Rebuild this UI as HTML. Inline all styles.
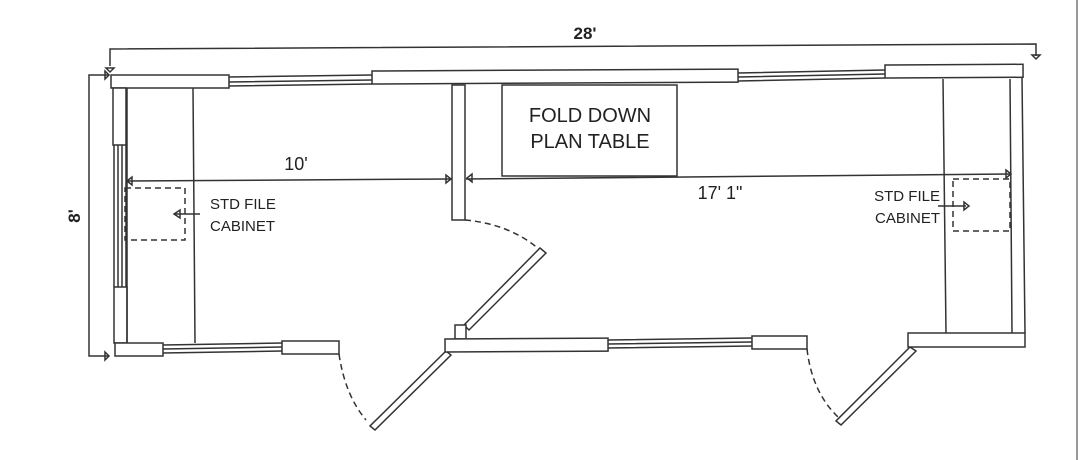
<!DOCTYPE html>
<html><head><meta charset="utf-8"><style>
html,body{margin:0;padding:0;background:#fff;width:1080px;height:460px;overflow:hidden}
svg{display:block}
text{font-family:"Liberation Sans","DejaVu Sans",sans-serif;fill:#222}
</style></head><body>
<svg width="1080" height="460" viewBox="0 0 1080 460" xmlns="http://www.w3.org/2000/svg">
<g fill="none" stroke="#333" stroke-width="1.5">
<polyline points="110,66 110,49 1036,44 1036,56"/>
<path d="M106,68 h8 l-4,4 z" />
<path d="M1032,55 h8 l-4,4 z"/>
<polyline points="108,75 89,75 89,356 108,356"/>
<path d="M105,71 v8 l4,-4 z"/>
<path d="M105,352 v8 l4,-4 z"/>

<rect x="111" y="75" width="118" height="13" fill="#fff"/>
<path d="M229,77 L372,75 M229,82 L372,80 M229,86 L372,84"/>
<rect x="372" y="71" width="366" height="13" fill="#fff" transform="rotate(-0.3 372 71)"/>
<path d="M738,73 L885,70 M738,77 L885,74 M738,81 L885,78"/>
<rect x="885" y="65" width="138" height="13" fill="#fff" transform="rotate(-0.3 885 65)"/>
<rect x="113" y="88" width="13" height="57" fill="#fff"/>
<path d="M114,145 V287 M118,145 V287 M122,145 V287 M126,145 V287"/>
<rect x="114" y="287" width="13" height="56" fill="#fff"/>
<line x1="127" y1="88" x2="127" y2="343"/>
<line x1="193" y1="88" x2="195" y2="343"/>
<rect x="115" y="343" width="48" height="13" fill="#fff"/>
<path d="M163,345 L282,343 M163,349 L282,347 M163,353 L282,351"/>
<rect x="282" y="341" width="57" height="13" fill="#fff"/>
<path d="M339,354 Q345,395 366,420" stroke-dasharray="6,4"/>
<polygon points="446,351 451,355 375,430 370,426" fill="#fff"/>
<rect x="452" y="85" width="13" height="135" fill="#fff"/>
<path d="M465,220 Q510,224 540,250" stroke-dasharray="6,4"/>
<polygon points="540,248 546,253 469,330 464,325" fill="#fff"/>
<rect x="455" y="325" width="11" height="14" fill="#fff"/>
<rect x="445" y="339" width="163" height="13" fill="#fff" transform="rotate(-0.3 445 339)"/>
<path d="M608,340 L752,338 M608,344 L752,342 M608,348 L752,346"/>
<rect x="752" y="336" width="55" height="13" fill="#fff"/>
<path d="M807,349 Q812,392 838,417" stroke-dasharray="6,4"/>
<polygon points="910,347 916,351 841,425 836,421" fill="#fff"/>
<rect x="908" y="333" width="117" height="14" fill="#fff"/>
<line x1="1022" y1="78" x2="1025" y2="333"/>
<line x1="1010" y1="79" x2="1012" y2="333"/>
<line x1="943" y1="79" x2="946" y2="333"/>
<rect x="502" y="85" width="175" height="91"/>
<line x1="126" y1="181" x2="452" y2="179"/>
<line x1="466" y1="179" x2="1010" y2="174"/>
<path d="M132,177 v8 l-5,-4 z"/>
<path d="M446,175 v8 l5,-4 z"/>
<path d="M472,174 v8 l-5,-4 z"/>
<path d="M1006,170 v8 l5,-4 z"/>
<rect x="125" y="188" width="60" height="52" stroke-dasharray="6,4"/>
<line x1="175" y1="214" x2="200" y2="214"/>
<path d="M180,210 v8 l-6,-4 z"/>
<rect x="953" y="179" width="57" height="52" stroke-dasharray="6,4"/>
<line x1="938" y1="206" x2="966" y2="206"/>
<path d="M964,202 v8 l5,-4 z"/>
</g>
<line x1="1077" y1="0" x2="1077" y2="460" stroke="#999" stroke-width="2"/>
<text x="585" y="39" font-size="17" font-weight="bold" text-anchor="middle">28'</text>
<text x="80" y="216" font-size="17" font-weight="bold" text-anchor="middle" transform="rotate(-90 80 216)">8'</text>
<text x="590" y="122" font-size="20" text-anchor="middle">FOLD DOWN</text>
<text x="590" y="148" font-size="20" text-anchor="middle">PLAN TABLE</text>
<text x="296" y="170" font-size="18" text-anchor="middle">10'</text>
<text x="720" y="199" font-size="18" text-anchor="middle">17' 1"</text>
<text x="210" y="209" font-size="15">STD FILE</text>
<text x="210" y="231" font-size="15">CABINET</text>
<text x="940" y="201" font-size="15" text-anchor="end">STD FILE</text>
<text x="940" y="223" font-size="15" text-anchor="end">CABINET</text>
</svg>
</body></html>
